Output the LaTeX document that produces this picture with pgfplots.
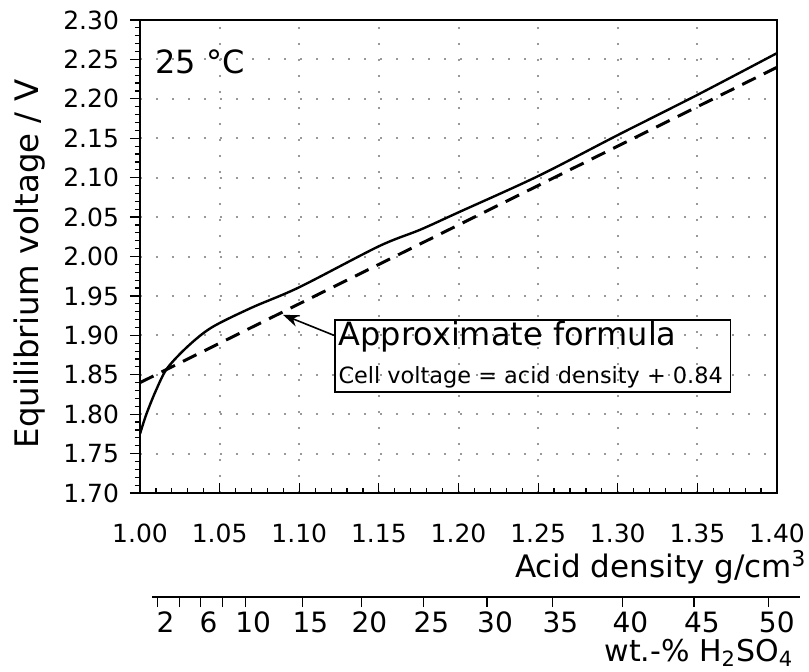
\documentclass[border=0pt]{standalone}
\usepackage{fontspec}
\setmainfont{DejaVu Sans}
\usepackage{pgfplots}
\pgfplotsset{compat=1.18}
\usetikzlibrary{arrows.meta, calc}

\begin{document}
\begin{tikzpicture}
  \begin{axis}[
      name=main, scale only axis,
      width=318.5pt, height=236.5pt,
      xmin=1, xmax=1.4, ymin=1.7, ymax=2.3,
      xtick={1,1.05,1.1,1.15,1.2,1.25,1.3,1.35,1.4},
      ytick={1.7,1.75,1.8,1.85,1.9,1.95,2,2.05,2.1,2.15,2.2,2.25,2.3},
      minor x tick num=4, minor y tick num=4,
      xtick pos=bottom, ytick pos=left,
      xtick align=inside, ytick align=outside,
      major tick length=5pt, minor tick length=2.5pt,
      axis line style={line width=1pt},
      every tick/.style={black, line width=0.6pt},
      grid=major,
      major grid style={gray!80, line width=1pt, dash pattern=on 1pt off 7pt},
      /pgf/number format/assume math mode=true,
      /pgf/number format/.cd, fixed, fixed zerofill, precision=2, /pgfplots/.cd,
      tick label style={font=\fontsize{12.5}{14}\selectfont},
      xticklabel style={yshift=-12pt},
      yticklabel style={xshift=-2pt},
      xlabel={Acid density g/cm\textsuperscript{3}},
      xlabel style={font=\fontsize{15.5}{17}\selectfont, at={(axis description cs:1.047,0)},
                    anchor=east, yshift=-37pt, inner sep=0pt},
      ylabel={Equilibrium voltage / V},
      ylabel style={font=\fontsize{16.2}{18}\selectfont, at={(axis description cs:-0.1727,0.484)},
                    anchor=center},
    ]
    % measured curve
    \addplot[black, line width=1.2pt, smooth] coordinates {
      (1.000,1.775)(1.004,1.800)(1.010,1.830)(1.017,1.858)(1.030,1.886)
      (1.045,1.910)(1.070,1.935)(1.100,1.961)(1.150,2.013)(1.176,2.034)
      (1.200,2.056)(1.250,2.102)(1.300,2.154)(1.350,2.205)(1.400,2.258)};
    % approximate formula
    \addplot[black, line width=1.5pt, dash pattern=on 7.5pt off 4.5pt] coordinates {
      (1.00,1.84)(1.40,2.24)};

    \node[anchor=west, inner sep=0pt, font=\fontsize{16}{18}\selectfont]
      at (axis cs:1.0094,2.247) {25 °C};
    \draw[line width=0.6pt] (axis cs:1.1225,1.828) rectangle (axis cs:1.3706,1.9195);
    \node[anchor=west, inner sep=0pt, font=\fontsize{16}{18}\selectfont]
      at (axis cs:1.1244,1.898) {Approximate formula};
    \node[anchor=west, inner sep=0pt, font=\fontsize{11.2}{13}\selectfont]
      at (axis cs:1.1244,1.847) {Cell voltage = acid density + 0.84};
    \draw[-{Stealth[length=8pt,width=6pt]}, line width=0.8pt]
      (axis cs:1.1218,1.900) -- (axis cs:1.0898,1.926);
  \end{axis}

  \begin{axis}[
      at={(main.south west)}, anchor=south west, xshift=6pt, yshift=-52pt,
      scale only axis, width=324pt, height=10pt,
      xmin=1.0075, xmax=1.4146, ymin=0, ymax=1,
      hide y axis, axis x line*=bottom,
      axis line style={line width=1pt},
      xtick={1.011,1.025,1.038,1.052,1.066,1.102,1.139,1.178,1.218,1.259,1.303,1.348,1.395},
      xticklabels={2,,6,,10,15,20,25,30,35,40,45,50},
      tick align=outside, major tick length=5pt,
      every tick/.style={black, line width=0.6pt},
      xticklabel style={font=\fontsize{14}{16}\selectfont, xshift=4pt, yshift=1pt},
      xlabel={wt.-\% H\textsubscript{2}SO\textsubscript{4}},
      xlabel style={font=\fontsize{15}{17}\selectfont, at={(axis description cs:0.99,0)},
                    anchor=east, yshift=-28pt, inner sep=0pt},
    ]
    \addplot[draw=none] coordinates {(1.1,0.5)};
  \end{axis}

  \pgfresetboundingbox
  \path[use as bounding box] ($(main.south west)+(-70pt,-89pt)$) rectangle ++(404.5pt,335.5pt);
\end{tikzpicture}
\end{document}
